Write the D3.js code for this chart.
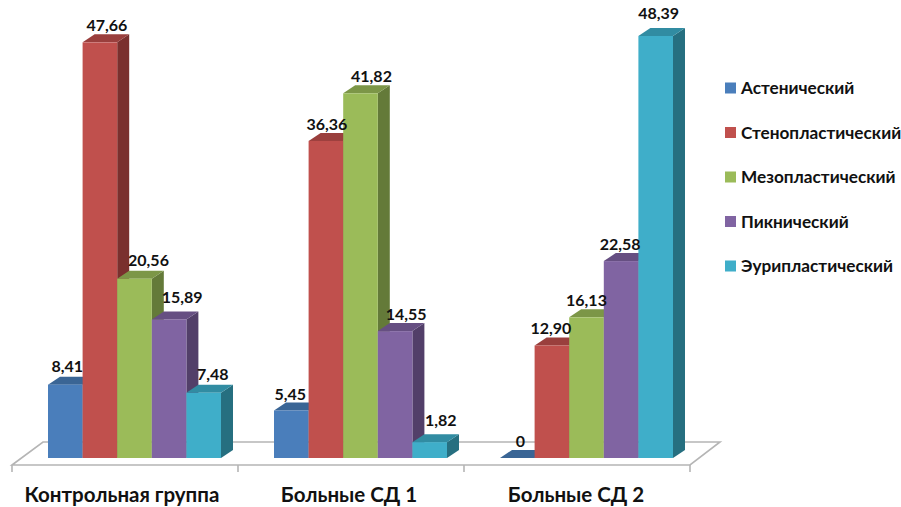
<!DOCTYPE html>
<html>
<head>
<meta charset="utf-8">
<script src="https://cdn.jsdelivr.net/npm/d3@7/dist/d3.min.js"></script>
<style>
html,body{margin:0;background:#fff}
svg{display:block}
text{font-family:Lato,"Open Sans","Noto Sans",sans-serif;font-weight:700;fill:#111}
</style>
</head>
<body>
<svg id="chart" width="901" height="507"></svg>
<script>
// Values per group, one array for each body type
const groups = ["Контрольная группа", "Больные СД 1", "Больные СД 2"];
const seriesNames = ["Астенический", "Стенопластический", "Мезопластический", "Пикнический", "Эурипластический"];
const asthenic = [8.41, 5.45, 0];
const stenoplastic = [47.66, 36.36, 12.90];
const mesoplastic = [20.56, 41.82, 16.13];
const pyknic = [15.89, 14.55, 22.58];
const euryplastic = [7.48, 1.82, 48.39];
const valueLabels = [
  ["8,41", "5,45", "0"],
  ["47,66", "36,36", "12,90"],
  ["20,56", "41,82", "16,13"],
  ["15,89", "14,55", "22,58"],
  ["7,48", "1,82", "48,39"]
];

const front = ["#4A7EBB", "#C0504D", "#9BBB59", "#8064A2", "#3FAEC9"];
const topFace = ["#3A6595", "#9A3F3D", "#7C9647", "#664F82", "#318CA2"];
const sideFace = ["#2F5279", "#7A302E", "#647A39", "#523F69", "#266F80"];

// Hand placement of the value labels relative to each bar, as in a manually arranged chart
const labelDx = [[2,-1,3],[7,1,-1],[14,11,0],[13,11,-1],[9,11,3]];
const labelDy = [[-18,-16,-17],[-17,-17,-17],[-18,-17,-17],[-22,-17,-17],[-18,-22,-23]];

const svg = d3.select("#chart");
const baseY = 458, depthX = 12, depthY = 8;

const x0 = d3.scaleBand().domain(d3.range(groups.length)).range([12, 690]);
const x1 = d3.scaleBand().domain(d3.range(seriesNames.length)).range([36, 209]);
const y = d3.scaleLinear().domain([0, 48.39]).range([baseY, 36]);
const values = [asthenic, stenoplastic, mesoplastic, pyknic, euryplastic];

// Chart floor
const floor = svg.append("g").attr("fill", "none").attr("stroke", "#b5b5b5").attr("stroke-width", 1.6);
floor.append("path").attr("d", "M12,465L43,442L720,442L690,465Z");
floor.selectAll("line").data([12, 238, 464, 690]).join("line")
  .attr("x1", d => d).attr("x2", d => d).attr("y1", 465).attr("y2", 472);

// Bars are painted left to right so each front face covers its neighbour's side
groups.forEach((g, gi) => {
  const gx = x0(gi);
  seriesNames.forEach((s, si) => {
    const v = values[si][gi];
    const xl = gx + x1(si), w = x1.bandwidth(), xr = xl + w, t = y(v);
    const bar = svg.append("g");
    bar.append("path").attr("fill", sideFace[si])
      .attr("d", `M${xr},${t}L${xr+depthX},${t-depthY}L${xr+depthX},${baseY-depthY}L${xr},${baseY}Z`);
    bar.append("path").attr("fill", topFace[si])
      .attr("d", `M${xl},${t}L${xl+depthX},${t-depthY}L${xr+depthX},${t-depthY}L${xr},${t}Z`);
    bar.append("rect").attr("x", xl).attr("y", t).attr("width", w).attr("height", baseY - t).attr("fill", front[si]);
  });
});

// Value labels go on top of every bar
groups.forEach((g, gi) => {
  seriesNames.forEach((s, si) => {
    svg.append("text")
      .attr("x", x0(gi) + x1(si) + x1.bandwidth() / 2 + labelDx[si][gi])
      .attr("y", y(values[si][gi]) + labelDy[si][gi])
      .attr("dy", "0.35em")
      .attr("text-anchor", "middle")
      .attr("font-size", 16)
      .text(valueLabels[si][gi]);
  });
});

// Group names under the floor
svg.selectAll("text.group").data(groups).join("text")
  .attr("class", "group")
  .attr("x", (d, i) => x0(i) + x0.bandwidth() / 2 - 3 + i)
  .attr("y", 495).attr("dy", "0.35em")
  .attr("text-anchor", "middle").attr("font-size", 20.5)
  .text(d => d);

// Legend
const legendY = d3.scalePoint().domain(seriesNames).range([88, 266]);
const legend = svg.selectAll("g.legend").data(seriesNames).join("g")
  .attr("class", "legend")
  .attr("transform", d => `translate(725,${legendY(d)})`);
legend.append("rect").attr("x", 0).attr("y", -5.5).attr("width", 11).attr("height", 11)
  .attr("fill", (d, i) => front[i]);
legend.append("text").attr("x", 16).attr("dy", "0.35em").attr("font-size", 17.2).text(d => d);
</script>
</body>
</html>
